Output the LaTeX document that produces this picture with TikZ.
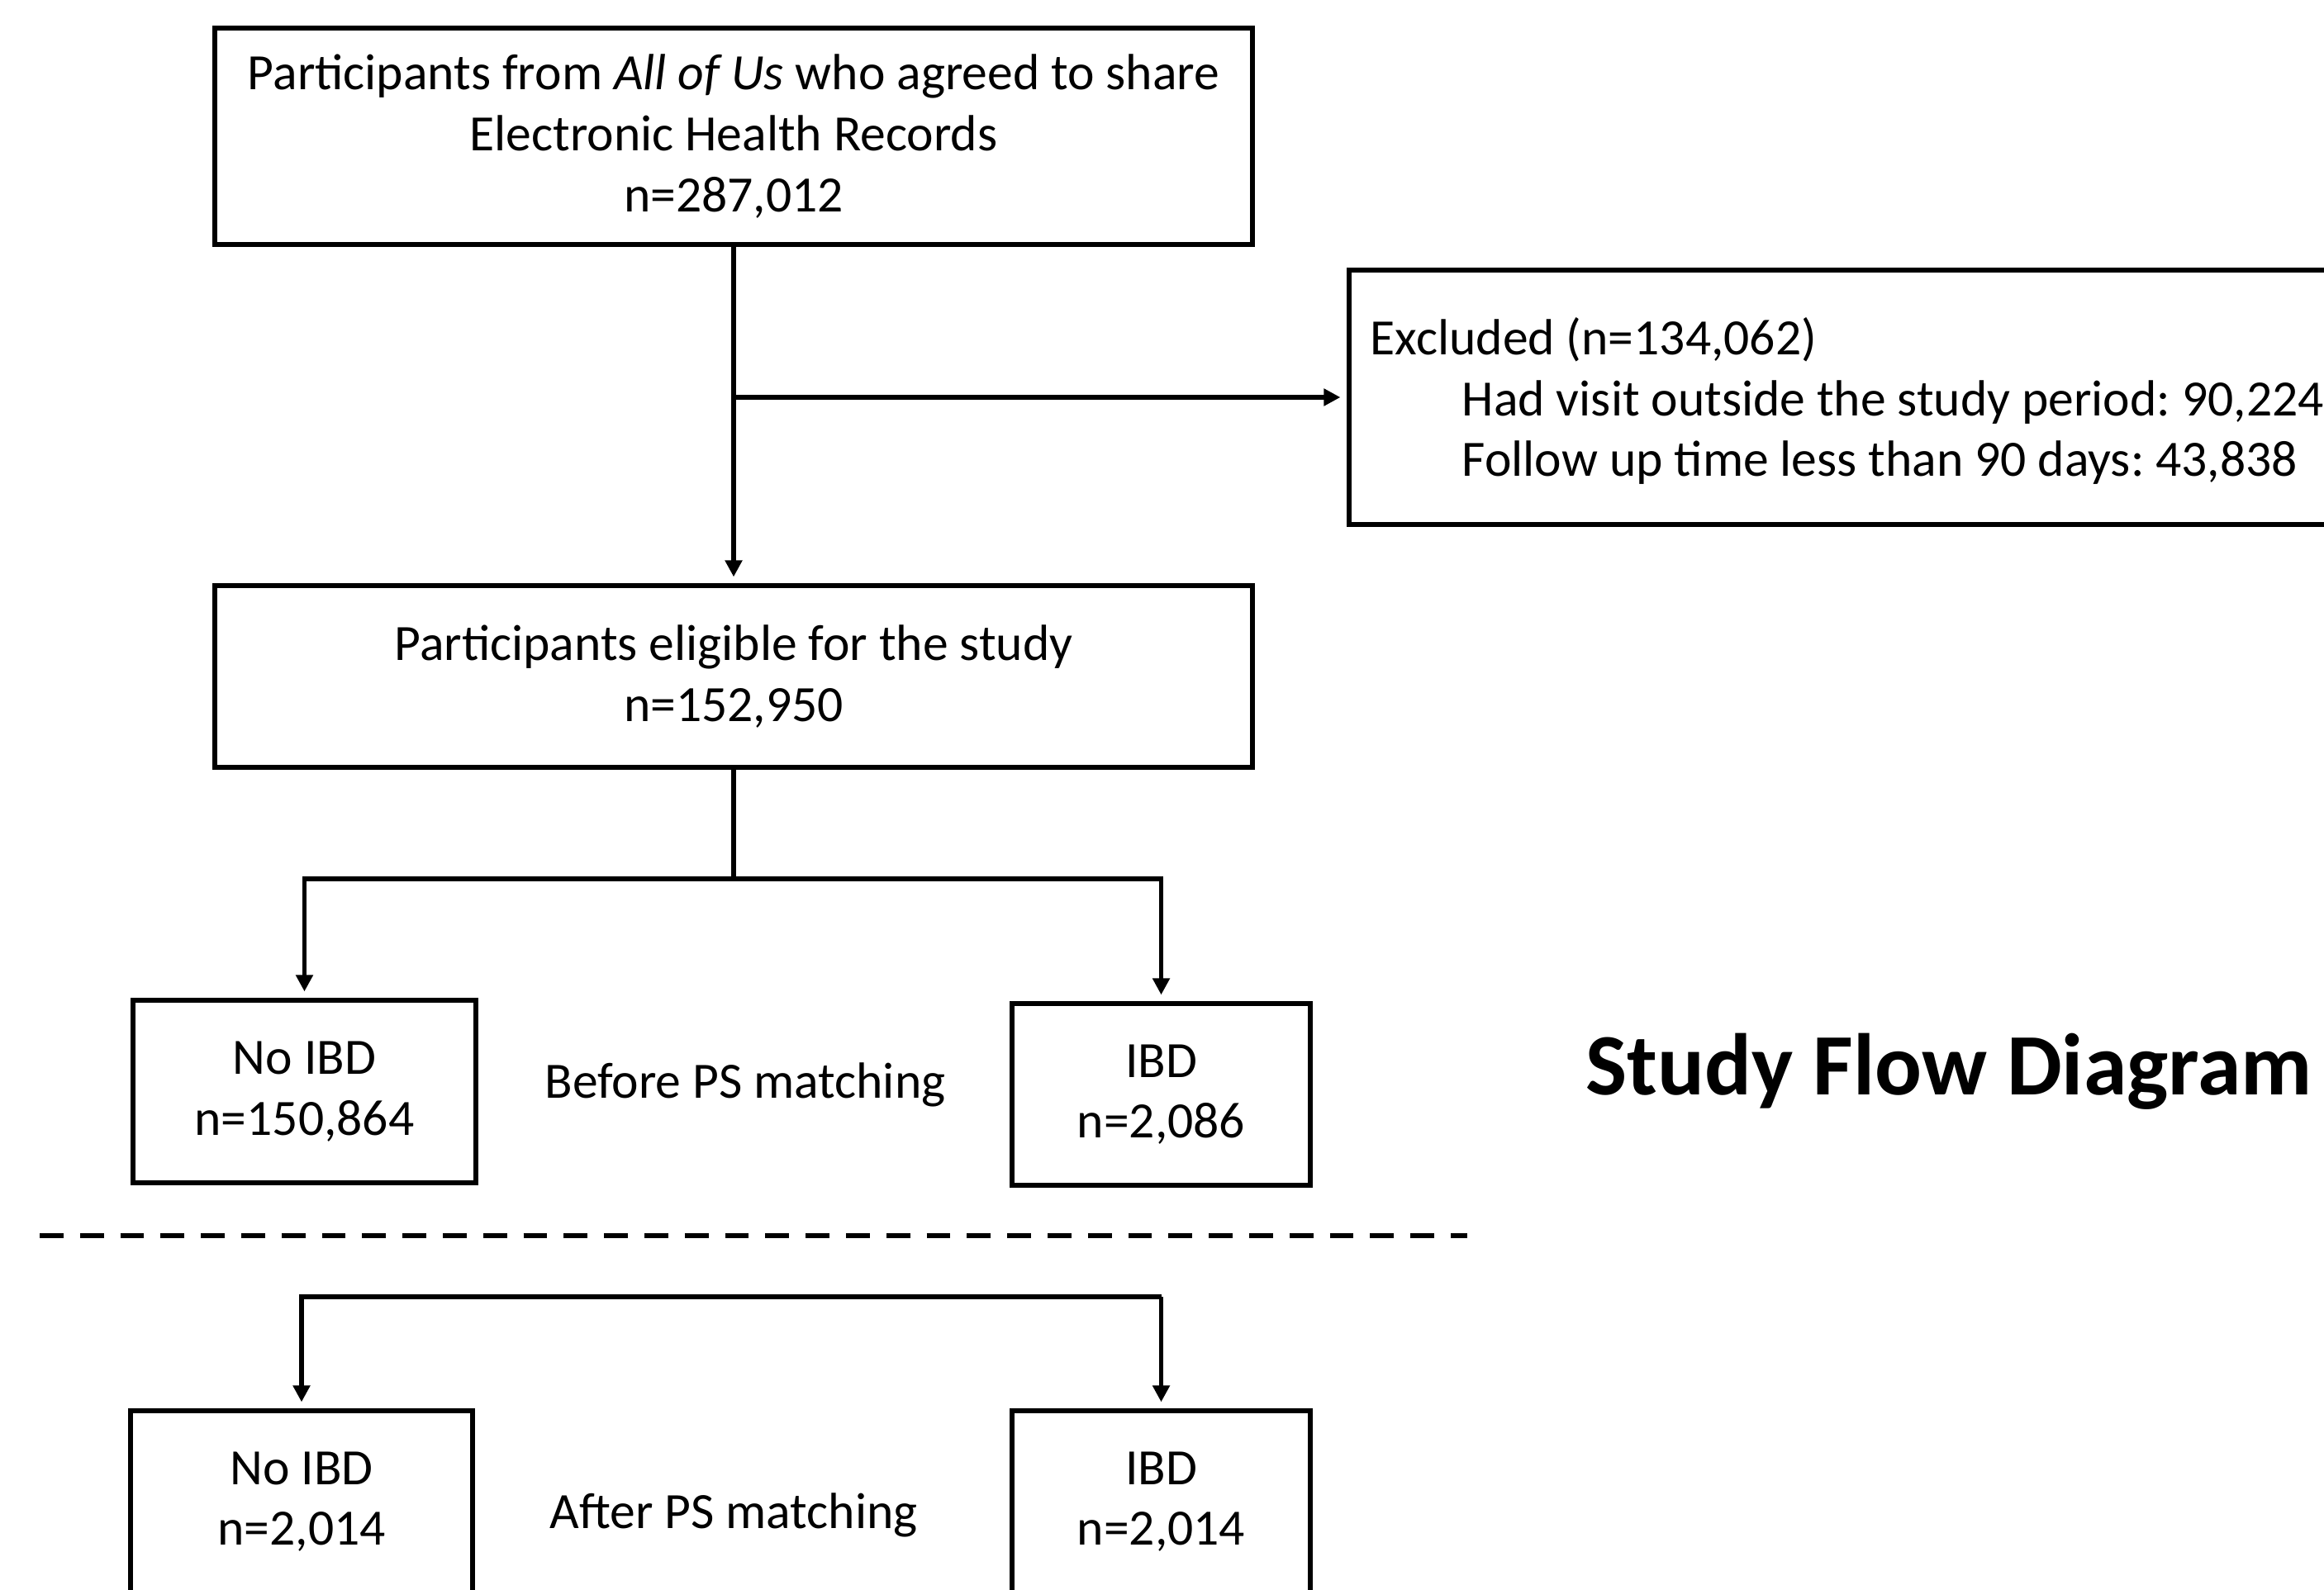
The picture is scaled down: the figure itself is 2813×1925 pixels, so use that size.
\documentclass[tikz,border=0pt]{standalone}
\usepackage{fontspec}
\setmainfont{Carlito}
\usetikzlibrary{arrows.meta}
\begin{document}
\frenchspacing
\begin{tikzpicture}[x=0.25pt,y=-0.25pt,
  box/.style={draw,line width=1.3pt,align=center,inner sep=0pt,font=\fontsize{15.4}{18.4}\selectfont,
    execute at begin node={\rule{0pt}{13pt}}},
  txt/.style={inner sep=0pt,font=\fontsize{15.4}{18.4}\selectfont},
  conn/.style={line width=1.3pt},
  arr/.style={conn,-{Triangle[length=5pt,width=5pt]},shorten >=2pt},
  sep/.style={line width=1.35pt,dash pattern=on 7.2pt off 5pt}]
\useasboundingbox (0,0) rectangle (2813,1925);
\node[box,minimum width=314pt,minimum height=65.5pt] (src) at (888,165)
  {Participants from \textit{All of Us} who agreed to share\\Electronic Health Records\\n=287,012};
\node[box,minimum width=305pt,minimum height=77pt] (excl) at (2243,481) {};
\node[txt,anchor=base west] (ex1) at (1658,429) {Excluded (n=134,062)};
\node[txt,anchor=base west] (ex2) at (1769,503) {Had visit outside the study period: 90,224};
\node[txt,anchor=base west] (ex3) at (1769,576) {Follow up time less than 90 days: 43,838};
\node[box,minimum width=314pt,minimum height=55pt] (elig) at (888,819)
  {Participants eligible for the study\\n=152,950};
\node[box,minimum width=103.75pt,minimum height=55.25pt] (noibd1) at (368.5,1321.5)
  {No IBD\\n=150,864};
\node[box,minimum width=90.25pt,minimum height=55pt] (ibd1) at (1405.5,1325)
  {IBD\\n=2,086};
\node[txt] (before) at (902,1313) {Before PS matching};
\node[box,minimum width=103.5pt,minimum height=55pt] (noibd2) at (365,1818)
  {No IBD\\n=2,014};
\node[box,minimum width=90.25pt,minimum height=55pt] (ibd2) at (1405.5,1818)
  {IBD\\n=2,014};
\node[txt] (after) at (888,1834) {After PS matching};
\node[inner sep=0pt,font=\fontsize{26.5}{32}\selectfont\bfseries] (title) at (2359,1297) {Study Flow Diagram};
% connectors
\draw[arr] (src.south) -- (elig.north);
\draw[arr] (src.south |- excl.west) -- (excl.west);
\coordinate (j1) at (888,1064);
\draw[arr] (elig.south) -- (j1) -| (noibd1.north);
\draw[arr] (j1) -| (ibd1.north);
\coordinate (d1) at (48,1496);
\coordinate (d2) at (1776,1496);
\draw[sep] (d1) -- (d2);
\coordinate (j2) at (888,1570);
\draw[arr] (ibd2.north |- j2) -| (noibd2.north);
\draw[arr] (ibd2.north |- j2) -- (ibd2.north);
\end{tikzpicture}
\end{document}
